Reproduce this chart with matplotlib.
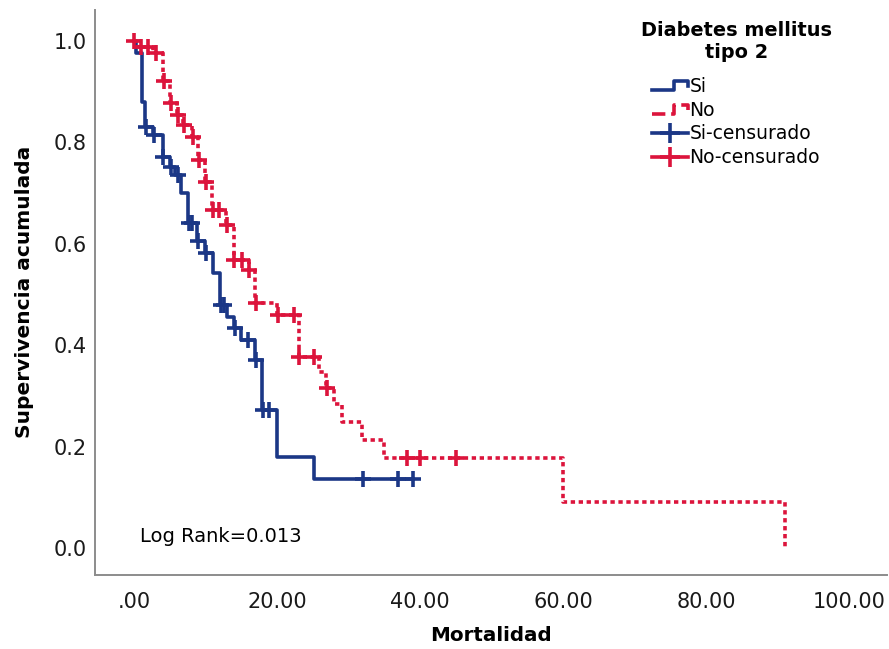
import numpy as np
import matplotlib
matplotlib.use("Agg")
import matplotlib.pyplot as plt
from matplotlib.lines import Line2D
from matplotlib.legend_handler import HandlerBase

plt.rcParams['font.family'] = ['DejaVu Sans']

# Kaplan-Meier steps
si_times = [0.0, 0.3, 1.1, 1.5, 2.7, 4.0, 5.0, 5.7, 6.6, 7.6, 8.8, 9.9, 11.1, 12.0,
            13.0, 13.9, 15.0, 16.9, 17.9, 20.0, 25.1]
si_surv = [1.0, 0.975, 0.88, 0.83, 0.815, 0.77, 0.752, 0.736, 0.70, 0.64, 0.605, 0.582,
           0.542, 0.479, 0.456, 0.434, 0.41, 0.371, 0.272, 0.18, 0.137]
si_end = 39.0
si_cens = [1.6, 2.8, 4.1, 5.1, 6.2, 7.7, 8.1, 9.0, 10.1, 12.1, 12.6, 14.1, 15.9, 17.0,
           18.0, 18.8, 32.0, 36.9, 39.0]

no_times = [0.0, 0.5, 2.6, 4.1, 5.0, 6.0, 6.9, 8.1, 9.0, 9.9, 10.9, 12.9, 13.9, 16.0,
            16.9, 20.0, 23.0, 25.8, 26.9, 27.9, 29.0, 31.8, 34.9, 60.0, 91.0]
no_surv = [1.0, 0.988, 0.976, 0.92, 0.877, 0.854, 0.834, 0.811, 0.765, 0.722, 0.667,
           0.637, 0.568, 0.548, 0.483, 0.46, 0.377, 0.348, 0.315, 0.285, 0.249, 0.213,
           0.177, 0.091, 0.0]
no_cens = [0.0, 1.0, 2.0, 3.0, 4.2, 5.1, 6.1, 7.0, 8.2, 9.1, 10.0, 11.0, 11.9, 13.0,
           14.0, 15.1, 16.1, 17.0, 20.1, 22.4, 23.1, 25.1, 27.0, 38.1, 40.0, 45.0]

x_ticks = [0, 20, 40, 60, 80, 100]
x_labels = ['.00', '20.00', '40.00', '60.00', '80.00', '100.00']
y_ticks = [0.0, 0.2, 0.4, 0.6, 0.8, 1.0]

BLUE = '#1b3786'
RED = '#dc143c'
DOTS = (0, (1.2, 1.0))


def level_at(times, surv, t):
    idx = np.searchsorted(times, t, side='right') - 1
    return np.asarray(surv)[idx]


class StepHandler(HandlerBase):
    # legend handle drawn as a small step, like SPSS
    def create_artists(self, legend, orig_handle, xdescent, ydescent,
                       width, height, fontsize, trans):
        xs = np.array([0, 0.62, 0.62, 1.0, 1.0]) * width - xdescent
        ys = np.array([0.15, 0.15, 0.85, 0.85, 0.45]) * height - ydescent
        ln = Line2D(xs, ys, color=orig_handle.get_color(),
                    linestyle=orig_handle.get_linestyle(),
                    linewidth=orig_handle.get_linewidth(), transform=trans)
        return [ln]


fig = plt.figure(figsize=(8.89, 6.49), dpi=100)
ax = fig.add_axes([0.107, 0.114, 0.891, 0.871])

si_x = si_times + [si_end]
si_y = si_surv + [si_surv[-1]]
ax.step(si_x, si_y, where='post', color=BLUE, lw=2.6)
ax.step(no_times, no_surv, where='post', color=RED, lw=2.6, linestyle=DOTS)

ax.plot(si_cens, level_at(si_times, si_surv, si_cens), '+', color=BLUE, ms=12, mew=2.6)
ax.plot(no_cens, level_at(no_times, no_surv, no_cens), '+', color=RED, ms=12, mew=2.6)

ax.set_xlim(-5.45, 105.3)
ax.set_ylim(-0.053, 1.061)
ax.set_xticks(x_ticks)
ax.set_xticklabels(x_labels)
ax.set_yticks(y_ticks)
ax.set_yticklabels(['%.1f' % v for v in y_ticks])
ax.tick_params(length=0, labelsize=15, colors='#1a1a1a')
ax.tick_params(axis='x', pad=12)
ax.tick_params(axis='y', pad=6)
for s in ['top', 'right']:
    ax.spines[s].set_visible(False)
for s in ['left', 'bottom']:
    ax.spines[s].set_color('#8c8c8c')
    ax.spines[s].set_linewidth(1.4)

ax.set_xlabel('Mortalidad', fontsize=14.3, fontweight='bold', labelpad=10)
ax.set_ylabel('Supervivencia acumulada', fontsize=14.5, fontweight='bold', labelpad=14)

ax.text(0.8, 0.022, 'Log Rank=0.013', fontsize=14, ha='left', va='center')

h_si = Line2D([], [], color=BLUE, lw=2.6)
h_no = Line2D([], [], color=RED, lw=2.6, linestyle=DOTS)
h_si_c = Line2D([], [], color=BLUE, lw=2.6, marker='+', ms=14, mew=2.6)
h_no_c = Line2D([], [], color=RED, lw=2.6, marker='+', ms=14, mew=2.6)
leg = fig.legend([h_si, h_no, h_si_c, h_no_c],
                 ['Si', 'No', 'Si-censurado', 'No-censurado'],
                 title='Diabetes mellitus\ntipo 2',
                 title_fontproperties={'weight': 'bold', 'size': 13.9},
                 handler_map={h_si: StepHandler(), h_no: StepHandler()},
                 loc='upper center', bbox_to_anchor=(0.828, 0.968),
                 frameon=False, fontsize=13.5, borderpad=0, handlelength=1.9,
                 handletextpad=0.1, labelspacing=0.25, borderaxespad=0,
                 alignment='center')
leg.get_title().set_multialignment('center')
leg._legend_box.sep = 11

fig.savefig('out.png', dpi=100)
